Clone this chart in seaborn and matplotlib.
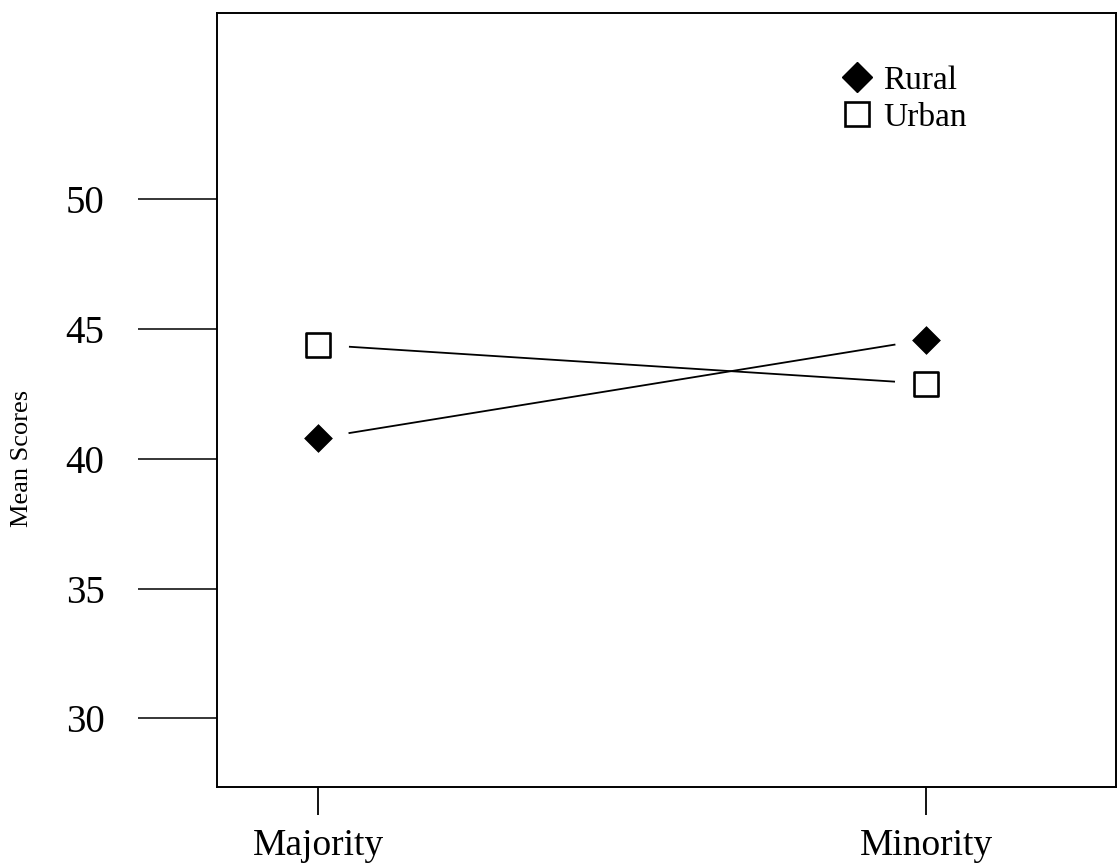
import matplotlib
matplotlib.use("Agg")
import matplotlib.pyplot as plt
from matplotlib.lines import Line2D
import seaborn as sns
import pandas as pd

# Group means by school location
groups = ["Majority", "Minority"]
rural_means = [40.8, 44.6]
urban_means = [44.4, 42.9]
series_names = ["Rural", "Urban"]
y_ticks = [30, 35, 40, 45, 50]

df = pd.DataFrame({
    "group": groups * 2,
    "score": rural_means + urban_means,
    "location": [series_names[0]] * 2 + [series_names[1]] * 2,
})
df["pos"] = [0, 1, 0, 1]

sns.set_theme(style="white")
plt.rcParams["font.family"] = ["Liberation Serif", "DejaVu Serif"]

fig = plt.figure(figsize=(11.17, 8.67), dpi=100)
ax = fig.add_axes([0.1943, 0.0923, 0.8048, 0.8927])

# Connecting lines
sns.lineplot(data=df, x="pos", y="score", units="location", estimator=None,
             color="black", linewidth=1.3, legend=False, ax=ax, zorder=1)

# White halos leave a gap between each line and its marker
sns.scatterplot(data=df, x="pos", y="score", marker="o", s=2000,
                color="white", edgecolor="none", legend=False, ax=ax, zorder=2)

rural = df[df["location"] == "Rural"]
urban = df[df["location"] == "Urban"]
sns.scatterplot(data=rural, x="pos", y="score", marker="D", s=200,
                color="black", edgecolor="black", linewidth=0.5,
                legend=False, ax=ax, zorder=3)
sns.scatterplot(data=urban, x="pos", y="score", marker="s", s=290,
                facecolor="white", edgecolor="black", linewidth=1.9,
                legend=False, ax=ax, zorder=3)

ax.set_xlim(-0.166, 1.3125)
ax.set_ylim(27.35, 57.19)
ax.set_xticks([0, 1])
ax.set_xticklabels(groups)
ax.set_yticks(y_ticks)
ax.set_yticklabels([str(t) for t in y_ticks])

ax.tick_params(axis="y", direction="out", length=57, width=1.1, pad=24,
               labelsize=28, colors="black", left=True)
ax.tick_params(axis="x", direction="out", length=20, width=1.3, pad=10,
               labelsize=27, colors="black", bottom=True)

for sp in ax.spines.values():
    sp.set_visible(True)
    sp.set_color("black")
    sp.set_linewidth(1.4)

ax.set_xlabel("")
ax.set_ylabel("Mean Scores", fontsize=19, color="black")
ax.yaxis.set_label_coords(-0.205, 0.425)

handles = [
    Line2D([], [], linestyle="none", marker="D", markersize=15,
           markerfacecolor="black", markeredgecolor="black"),
    Line2D([], [], linestyle="none", marker="s", markersize=17,
           markerfacecolor="white", markeredgecolor="black",
           markeredgewidth=1.9),
]
ax.legend(handles, series_names, loc="upper left",
          bbox_to_anchor=(0.695, 0.932), frameon=False, fontsize=24,
          labelcolor="black",
          handlelength=0.9, handletextpad=0.35, labelspacing=0.18,
          borderpad=0, borderaxespad=0)

fig.savefig("out.png", dpi=100, facecolor="white")
